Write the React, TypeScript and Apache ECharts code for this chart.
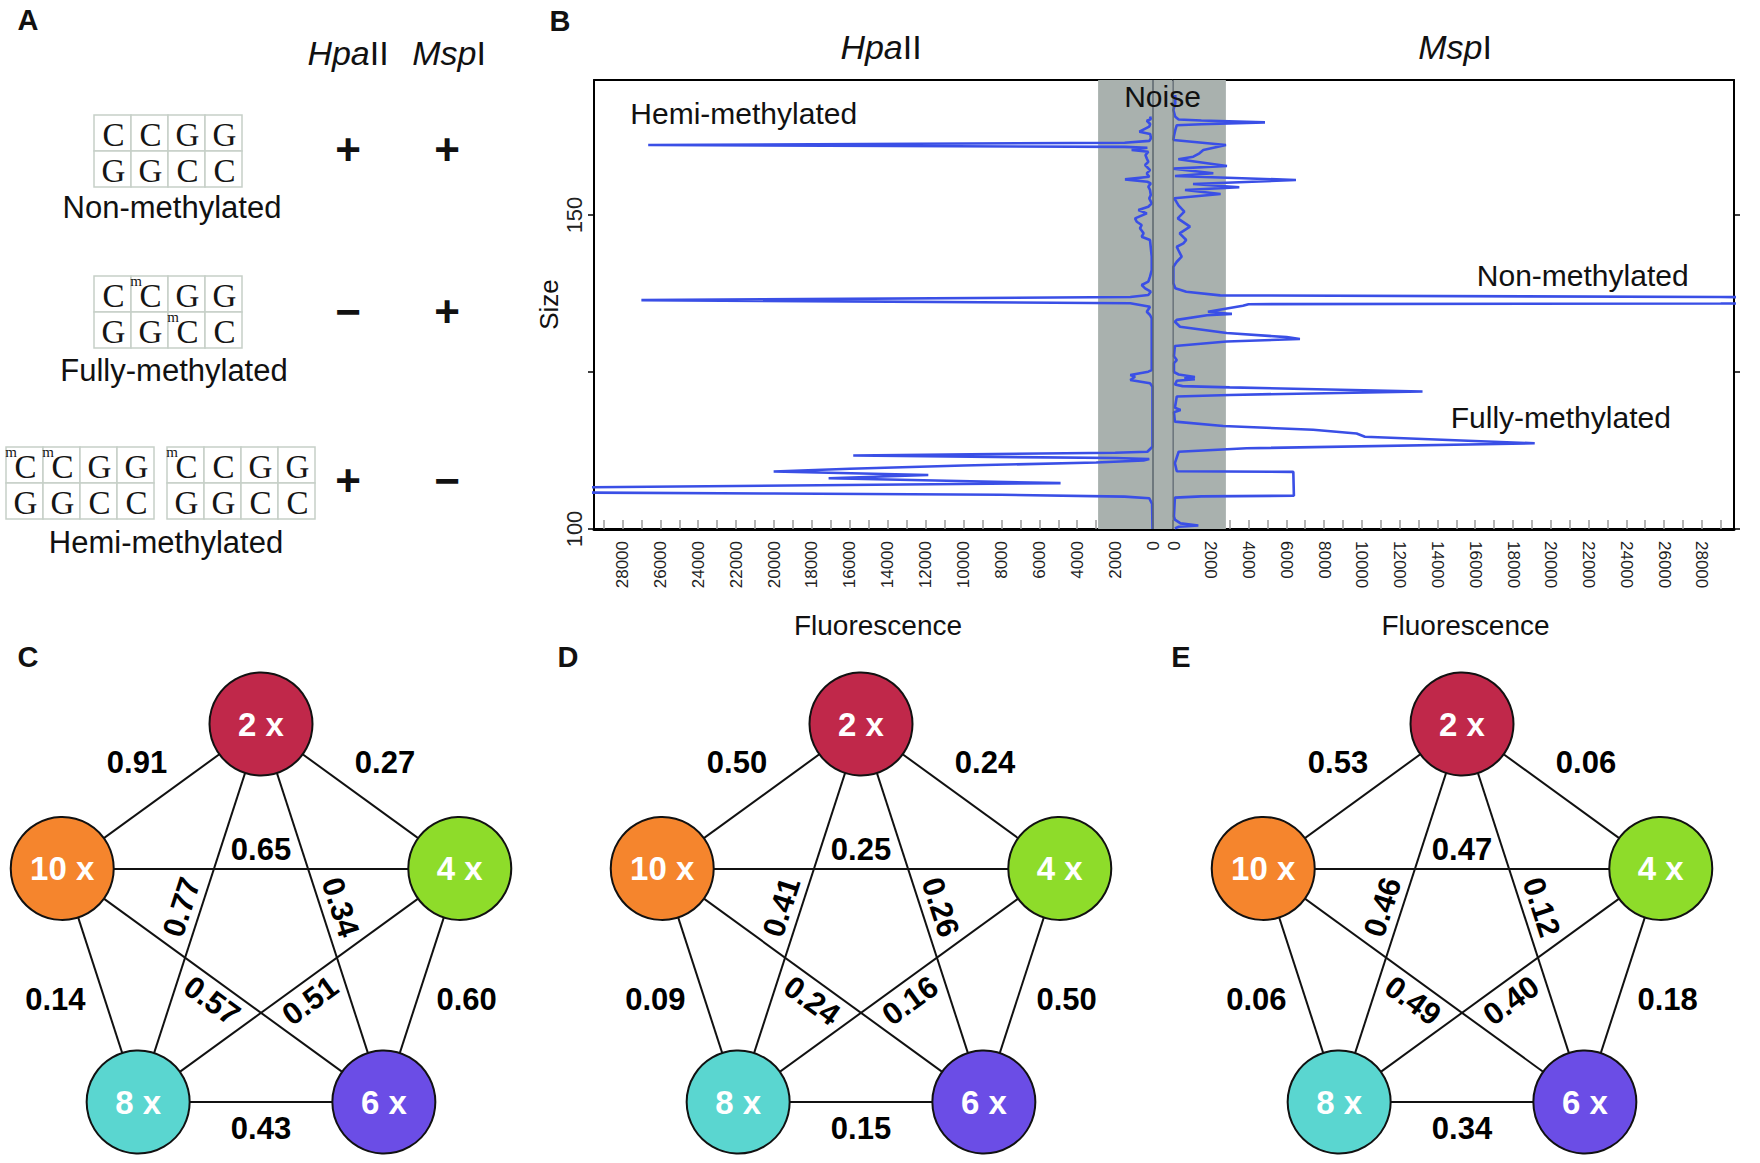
import React, { useEffect, useRef } from 'react';
import * as echarts from 'echarts';

const SANS = '"Liberation Sans", Arial, Helvetica, sans-serif';
const SERIF = '"Liberation Serif", "Times New Roman", Times, serif';

// ---------------- Panel A data ----------------
const strandTop = ['C', 'C', 'G', 'G'];
const strandBottom = ['G', 'G', 'C', 'C'];
const statusNames = ['Non-methylated', 'Fully-methylated', 'Hemi-methylated'];
const hpaIIDigest = ['+', '\u2212', '+'];
const mspIDigest = ['+', '+', '\u2212'];
// methylated cytosines of each duplex drawn: [row, column]
const duplexMethylation: number[][][] = [
  [],
  [[0, 1], [1, 2]],
  [[0, 0], [0, 1]],
  [[0, 0]],
];

// ---------------- Panel B data ----------------
// [fluorescence, size]
const hpaIITrace: number[][] = [
  [150, 165.7], [120, 165.24], [330, 165.02], [150, 164.5], [200, 164.07], [720, 163.27], [150, 162.9],
  [110, 162.21], [200, 161.8], [1500, 161.5], [26640, 161.15], [1500, 160.85], [300, 160.7], [1130, 160.35],
  [250, 160.08], [400, 159.55], [330, 159.0], [250, 158.47], [420, 157.96], [160, 157.15], [330, 156.62],
  [200, 156.1], [1480, 155.68], [300, 155.3], [120, 155.04], [250, 154.51], [160, 153.98], [120, 153.18],
  [200, 152.65], [70, 151.85], [250, 151.32], [775, 150.79], [330, 150.26], [950, 149.46], [860, 148.93],
  [600, 148.41], [690, 147.88], [500, 147.08], [600, 146.55], [160, 146.02], [70, 143.36], [70, 141.24],
  [160, 140.18], [250, 139.38], [600, 138.85], [420, 138.32], [120, 137.79], [250, 137.26], [1200, 136.95],
  [27000, 136.45], [1200, 135.95], [160, 135.4], [330, 134.6], [160, 134.08], [70, 133.55], [70, 125.3],
  [250, 125.05], [1200, 124.52], [950, 124.25], [1200, 123.73], [160, 123.2], [30, 122.67], [30, 113.1],
  [300, 112.3], [2000, 112.15], [15820, 111.7], [2000, 111.3], [200, 111.15], [500, 110.9], [3000, 110.6],
  [10000, 110.1], [16000, 109.6], [20020, 109.15], [11860, 108.6], [17120, 108.07], [4880, 107.3],
  [30000, 106.65], [40000, 106.25], [30000, 105.8], [20000, 105.65], [8000, 105.45], [1500, 105.15],
  [200, 104.9], [50, 104.0], [30, 100.0],
];
const mspITrace: number[][] = [
  [120, 169.1], [120, 167.78], [20, 166.72], [120, 165.65], [300, 165.2], [1500, 165.05], [4870, 164.75],
  [1500, 164.45], [200, 164.3], [120, 163.5], [50, 162.6], [20, 161.94], [2804, 161.15], [1605, 160.35],
  [1400, 159.82], [1076, 159.29], [282, 158.87], [2857, 157.8], [18, 157.38], [2134, 156.64], [106, 156.21],
  [6508, 155.57], [1060, 154.94], [3510, 154.41], [635, 153.98], [2522, 153.34], [70, 152.66], [300, 151.5],
  [600, 150.53], [250, 149.47], [900, 148.14], [350, 147.08], [700, 146.02], [550, 145.49], [200, 144.95],
  [280, 144.43], [460, 143.36], [200, 142.56], [20, 141.77], [20, 139.12], [120, 138.33], [700, 137.79],
  [2500, 137.2], [29000, 136.95], [45000, 136.45], [29000, 135.9], [4000, 135.8], [3700, 135.55],
  [1850, 134.6], [3120, 134.25], [1800, 134.05], [200, 133.3], [100, 133.0], [370, 132.2], [2840, 131.2],
  [6015, 130.55], [6720, 130.25], [2840, 129.85], [100, 129.15], [50, 127.5], [200, 126.9], [50, 126.4],
  [50, 125.0], [300, 124.6], [1160, 124.2], [600, 124.0], [1160, 123.85], [200, 123.6], [100, 123.0],
  [500, 122.75], [3000, 122.55], [13210, 121.9], [3000, 121.35], [200, 121.1], [100, 119.3], [400, 118.95],
  [50, 118.6], [100, 117.1], [2660, 116.4], [7420, 115.8], [9720, 115.2], [10160, 114.7], [19150, 113.65],
  [3900, 112.85], [300, 112.3], [100, 110.5], [200, 109.2], [6370, 109.1], [6400, 105.3], [1500, 105.2],
  [100, 105.0], [50, 102.0], [100, 101.5], [400, 100.9], [1340, 100.55], [300, 100.35], [100, 100.1],
];
const fluorescenceTicks = [
  0, 1000, 2000, 3000, 4000, 5000, 6000, 7000, 8000, 9000, 10000, 11000, 12000, 13000, 14000,
  15000, 16000, 17000, 18000, 19000, 20000, 21000, 22000, 23000, 24000, 25000, 26000, 27000, 28000, 29000,
];
const fluorescenceLabels = [
  0, 2000, 4000, 6000, 8000, 10000, 12000, 14000, 16000, 18000, 20000, 22000, 24000, 26000, 28000,
];
const sizeTicks = [100, 125, 150];
const sizeLabels = [100, 150];
const hpaIIRange = [-1000, 29500];
const mspIRange = [0, 29700];
const sizeRange = [100, 171.5];
const hpaIINoise = 2900;
const mspINoise = 2800;
// annotation anchors [fluorescence, size]
const hemiAnchor = [21600, 166.1];
const nonAnchor = [21690, 140.4];
const fullyAnchor = [20530, 117.7];
const noiseAnchor = [-500, 168.9];

// ---------------- Panels C-E data ----------------
const coverageLevels = ['2 x', '4 x', '6 x', '8 x', '10 x'];
const nodeColors = ['#C0284A', '#8EDC2A', '#6B4DE6', '#5AD6D0', '#F5852D'];
// pairs of coverage indices
const edgePairs = [[0, 1], [1, 2], [2, 3], [3, 4], [4, 0], [0, 2], [0, 3], [1, 3], [1, 4], [2, 4]];
const correlationsC = [0.27, 0.60, 0.43, 0.14, 0.91, 0.34, 0.77, 0.51, 0.65, 0.57];
const correlationsD = [0.24, 0.50, 0.15, 0.09, 0.50, 0.26, 0.41, 0.16, 0.25, 0.24];
const correlationsE = [0.06, 0.18, 0.34, 0.06, 0.53, 0.12, 0.46, 0.40, 0.47, 0.49];

function buildOption() {
  const graphic: any[] = [];
  const txt = (x: number, y: number, text: string, style: any) => ({
    type: 'text', x, y, silent: true,
    style: { text, align: 'center', verticalAlign: 'middle', fill: '#111', fontFamily: SANS, ...style },
  });

  // panel letters
  const letters: [string, number, number][] = [['A', 28, 20], ['B', 560, 21], ['C', 28, 657], ['D', 568, 657], ['E', 1181, 657]];
  letters.forEach(([t, x, y]) => graphic.push(txt(x, y, t, { fontSize: 29, fontWeight: 'bold' })));

  // panel A
  const italicRich = { i: { fontStyle: 'italic', fontSize: 34, fontFamily: SANS, fill: '#111' } };
  graphic.push(txt(348, 53, '{i|Hpa}II', { fontSize: 34, rich: italicRich }));
  graphic.push(txt(449, 53, '{i|Msp}I', { fontSize: 34, rich: italicRich }));

  const cellW = 37, cellH = 36;
  const duplexOrigins = [[94, 115], [94, 276], [6, 447], [167, 447]];
  duplexOrigins.forEach(([ox, oy], d) => {
    [strandTop, strandBottom].forEach((strand, r) => {
      strand.forEach((base, c) => {
        const x = ox + c * cellW, y = oy + r * cellH;
        graphic.push({
          type: 'rect', silent: true,
          shape: { x, y, width: cellW, height: cellH },
          style: { fill: '#fff', stroke: '#c6d0c8', lineWidth: 1.5 },
        });
        graphic.push(txt(x + cellW / 2 + 1, y + cellH / 2 + 2, base, {
          fontFamily: SERIF, fontSize: 33, lineHeight: 22, fill: '#151515',
        }));
      });
    });
    duplexMethylation[d].forEach(([r, c]) => {
      graphic.push(txt(ox + c * cellW + 5, oy + r * cellH + 5, 'm', {
        fontFamily: SERIF, fontSize: 15, lineHeight: 8, fill: '#151515',
      }));
    });
  });
  const statusCenters = [[172, 207], [174, 370], [166, 542]];
  const signRows = [149, 311, 480];
  statusNames.forEach((s, i) => {
    graphic.push(txt(statusCenters[i][0], statusCenters[i][1], s, { fontSize: 31 }));
    graphic.push(txt(348, signRows[i], hpaIIDigest[i], { fontSize: 44, fontWeight: 'bold' }));
    graphic.push(txt(447, signRows[i], mspIDigest[i], { fontSize: 44, fontWeight: 'bold' }));
  });

  // panel B titles
  graphic.push(txt(881, 47, '{i|Hpa}II', { fontSize: 34, rich: italicRich }));
  graphic.push(txt(1455, 47, '{i|Msp}I', { fontSize: 34, rich: italicRich }));

  // ---------- grids ----------
  const grids: any[] = [
    { left: 594, width: 578, top: 80, height: 449 },
    { left: 1173, width: 561, top: 80, height: 449 },
  ];
  const netCenters = [261, 861, 1462];
  const netCy = 933;
  const netExtents: number[][] = [];
  netCenters.forEach((cx) => {
    const l = Math.max(0, cx - 300);
    const r = Math.min(1760, cx + 300);
    grids.push({ left: l, width: r - l, top: 633, height: 530 });
    netExtents.push([l - cx, r - cx]);
  });
  const netTop = netCy - 633; // 300
  const netBottom = netCy - 1163; // -230

  const bottomAxis = (grid: number, range: number[], inverse: boolean, rot: number, namePad: number[]) => ({
    type: 'value', gridIndex: grid, inverse, min: range[0], max: range[1], position: 'bottom',
    axisLine: { show: true, onZero: false, lineStyle: { color: '#000', width: 3 } },
    axisTick: { show: true, inside: true, length: 9, customValues: fluorescenceTicks, lineStyle: { color: '#9a9a9a', width: 1.5 } },
    axisLabel: {
      show: true, rotate: rot, margin: 12, fontSize: 17, color: '#222', fontFamily: SANS,
      customValues: fluorescenceLabels, formatter: (v: number) => String(v),
    },
    splitLine: { show: false },
    name: 'Fluorescence', nameLocation: 'middle', nameGap: 82,
    nameTextStyle: { fontSize: 28, color: '#111', fontFamily: SANS, padding: namePad },
  });
  const topAxis = (grid: number, range: number[], inverse: boolean) => ({
    type: 'value', gridIndex: grid, inverse, min: range[0], max: range[1], position: 'top',
    axisLine: { show: true, onZero: false, lineStyle: { color: '#000', width: 2 } },
    axisTick: { show: false }, axisLabel: { show: false }, splitLine: { show: false },
  });

  const xAxis: any[] = [
    bottomAxis(0, hpaIIRange, true, 90, [0, 10, 0, 0]),
    bottomAxis(1, mspIRange, false, -90, [0, 0, 0, 24]),
    topAxis(0, hpaIIRange, true),
    topAxis(1, mspIRange, false),
  ];
  const yAxis: any[] = [
    {
      type: 'value', gridIndex: 0, min: sizeRange[0], max: sizeRange[1], position: 'left',
      axisLine: { show: true, onZero: false, lineStyle: { color: '#000', width: 2 } },
      axisTick: { show: true, length: 6, customValues: sizeTicks, lineStyle: { color: '#000', width: 1.5 } },
      axisLabel: {
        show: true, rotate: 90, margin: 9, fontSize: 22, color: '#222', fontFamily: SANS,
        customValues: sizeLabels, formatter: (v: number) => String(v),
      },
      splitLine: { show: false },
      name: 'Size', nameLocation: 'middle', nameGap: 24, nameRotate: 90,
      nameTextStyle: { fontSize: 26, color: '#111', fontFamily: SANS },
    },
    {
      type: 'value', gridIndex: 1, min: sizeRange[0], max: sizeRange[1], position: 'right',
      axisLine: { show: true, onZero: false, lineStyle: { color: '#000', width: 2 } },
      axisTick: { show: true, length: 6, customValues: sizeTicks, lineStyle: { color: '#000', width: 1.5 } },
      axisLabel: { show: false }, splitLine: { show: false },
    },
  ];
  const netXAxisIndex: number[] = [];
  const netYAxisIndex: number[] = [];
  [2, 3, 4].forEach((g, k) => {
    netXAxisIndex.push(xAxis.length);
    xAxis.push({ type: 'value', gridIndex: g, min: netExtents[k][0], max: netExtents[k][1], show: false, splitLine: { show: false } });
    netYAxisIndex.push(yAxis.length);
    yAxis.push({ type: 'value', gridIndex: g, min: netBottom, max: netTop, show: false, splitLine: { show: false } });
  });

  const annotation = (coord: number[], text: string) => ({
    coord, symbol: 'rect', symbolSize: 1, itemStyle: { color: 'rgba(0,0,0,0)', opacity: 1 },
    label: { show: true, position: 'inside', formatter: text, fontSize: 30, color: '#111', fontFamily: SANS },
  });
  const zeroLine = {
    silent: true, symbol: ['none', 'none'], label: { show: false },
    lineStyle: { color: '#5b666c', width: 1.5, type: 'solid' },
    data: [{ xAxis: 0 }],
  };

  const series: any[] = [
    {
      type: 'line', name: 'HpaII', xAxisIndex: 0, yAxisIndex: 0, data: hpaIITrace,
      showSymbol: false, symbol: 'none', clip: true, silent: true,
      lineStyle: { color: '#3a4fe6', width: 2.6 },
      markArea: { silent: true, itemStyle: { color: '#a9b1ae' }, data: [[{ xAxis: hpaIIRange[0] }, { xAxis: hpaIINoise }]] },
      markLine: zeroLine,
      markPoint: { silent: true, data: [annotation(hemiAnchor, 'Hemi-methylated'), annotation(noiseAnchor, 'Noise')] },
    },
    {
      type: 'line', name: 'MspI', xAxisIndex: 1, yAxisIndex: 1, data: mspITrace,
      showSymbol: false, symbol: 'none', clip: true, silent: true,
      lineStyle: { color: '#3a4fe6', width: 2.6 },
      markArea: { silent: true, itemStyle: { color: '#a9b1ae' }, data: [[{ xAxis: 0 }, { xAxis: mspINoise }]] },
      markLine: zeroLine,
      markPoint: { silent: true, data: [annotation(nonAnchor, 'Non-methylated'), annotation(fullyAnchor, 'Fully-methylated')] },
    },
  ];

  const R = 209;
  const nodePos = coverageLevels.map((_, i) => {
    const a = ((90 - 72 * i) * Math.PI) / 180;
    return [R * Math.cos(a), R * Math.sin(a)];
  });
  const labelItems = (values: number[]) =>
    edgePairs.map(([a, b], k) => {
      const pa = nodePos[a], pb = nodePos[b];
      const mx = (pa[0] + pb[0]) / 2, my = (pa[1] + pb[1]) / 2;
      const dx = pb[0] - pa[0], dy = pb[1] - pa[1];
      const len = Math.hypot(dx, dy);
      let nx = -dy / len, ny = dx / len;
      if (nx * mx + ny * my < 0) { nx = -nx; ny = -ny; }
      const side = Math.abs(a - b) === 1 || Math.abs(a - b) === 4;
      let rot = 0, off = 19;
      if (side) {
        off = 14 + Math.abs(nx) * 31 + Math.abs(ny) * 12;
      } else {
        rot = (Math.atan2(dy, dx) * 180) / Math.PI;
        if (rot > 90) rot -= 180;
        if (rot <= -90) rot += 180;
      }
      return { name: values[k].toFixed(2), value: [mx + nx * off, my + ny * off], label: { rotate: rot } };
    });

  [correlationsC, correlationsD, correlationsE].forEach((vals, p) => {
    series.push({
      type: 'graph', coordinateSystem: 'cartesian2d', layout: 'none',
      xAxisIndex: netXAxisIndex[p], yAxisIndex: netYAxisIndex[p],
      silent: true, symbolSize: 103, z: 2,
      data: coverageLevels.map((c, i) => ({
        name: c, value: nodePos[i],
        itemStyle: { color: nodeColors[i], borderColor: '#111', borderWidth: 2, opacity: 1 },
      })),
      links: edgePairs.map(([a, b]) => ({ source: coverageLevels[a], target: coverageLevels[b] })),
      lineStyle: { color: '#111', width: 2, opacity: 1, curveness: 0 },
      label: { show: true, position: 'inside', formatter: '{b}', color: '#fff', fontSize: 33, fontWeight: 'bold', fontFamily: SANS },
      emphasis: { disabled: true },
    });
    series.push({
      type: 'scatter', xAxisIndex: netXAxisIndex[p], yAxisIndex: netYAxisIndex[p], silent: true, z: 4,
      symbolSize: 1, itemStyle: { color: 'rgba(0,0,0,0)', opacity: 1 },
      data: labelItems(vals),
      label: { show: true, position: 'inside', formatter: '{b}', fontSize: 31, fontWeight: 'bold', color: '#000', fontFamily: SANS },
      emphasis: { disabled: true },
    });
  });

  return {
    animation: false,
    backgroundColor: '#ffffff',
    textStyle: { fontFamily: SANS },
    grid: grids,
    xAxis,
    yAxis,
    series,
    graphic,
  };
}

export default function App() {
  const ref = useRef<HTMLDivElement>(null);
  useEffect(() => {
    if (!ref.current) return;
    const chart = echarts.init(ref.current, null, { renderer: 'svg' });
    chart.setOption(buildOption() as any);
    return () => chart.dispose();
  }, []);
  return (
    <div
      ref={ref}
      style={{ position: 'absolute', left: 0, top: 0, width: 1760, height: 1163, background: '#fff' }}
    />
  );
}
